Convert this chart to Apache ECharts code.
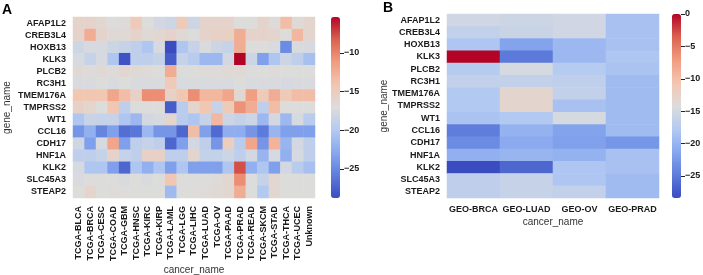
<!DOCTYPE html>
<html><head><meta charset="utf-8">
<script src="https://cdn.jsdelivr.net/npm/echarts@6/dist/echarts.min.js"></script>
<style>html,body{margin:0;padding:0;background:#fff}#c{width:703px;height:275px}</style>
</head><body><div id="c"></div>
<script>
const genes = ['AFAP1L2','CREB3L4','HOXB13','KLK3','PLCB2','RC3H1','TMEM176A','TMPRSS2','WT1','CCL16','CDH17','HNF1A','KLK2','SLC45A3','STEAP2'];
const tcgaCancers = ['TCGA-BLCA','TCGA-BRCA','TCGA-CESC','TCGA-COAD','TCGA-GBM','TCGA-HNSC','TCGA-KIRC','TCGA-KIRP','TCGA-LAML','TCGA-LGG','TCGA-LIHC','TCGA-LUAD','TCGA-OV','TCGA-PAAD','TCGA-PRAD','TCGA-READ','TCGA-SKCM','TCGA-STAD','TCGA-THCA','TCGA-UCEC','Unknown'];
const geoCancers = ['GEO-BRCA','GEO-LUAD','GEO-OV','GEO-PRAD'];

// Panel A values, one array per gene (columns follow tcgaCancers)
const tcgaAFAP1L2 = [-15.9,-15.9,-16.3,-17.0,-16.8,-14.7,-17.0,-17.8,-18.2,-14.7,-18.2,-15.9,-15.9,-15.9,-17.0,-17.0,-15.9,-16.8,-13.5,-16.6,-16.1];
const tcgaCREB3L4 = [-15.9,-12.4,-15.9,-16.6,-16.6,-15.9,-16.6,-16.3,-15.9,-16.6,-17.0,-15.9,-15.6,-15.4,-12.4,-15.9,-15.9,-16.1,-17.0,-13.1,-16.1];
const tcgaHOXB13  = [-18.0,-17.5,-17.5,-18.2,-18.7,-19.2,-20.3,-17.5,-28.75,-20.3,-18.7,-17.3,-18.2,-18.7,-12.4,-17.0,-17.0,-17.3,-24.8,-17.3,-17.5];
const tcgaKLK3    = [-17.5,-18.7,-17.5,-20.3,-28.3,-19.2,-19.2,-18.7,-27.8,-18.7,-19.6,-21.5,-21.5,-17.8,-5.35,-18.2,-23.4,-20.3,-18.2,-19.2,-20.8];
const tcgaPLCB2   = [-16.6,-16.8,-16.6,-16.8,-16.3,-16.6,-16.8,-17.0,-12.4,-17.0,-17.0,-16.8,-16.8,-16.6,-16.6,-17.0,-17.0,-16.8,-17.0,-17.0,-17.0];
const tcgaRC3H1   = [-17.3,-17.3,-17.0,-17.3,-17.0,-17.3,-17.3,-17.3,-14.7,-17.3,-17.3,-17.3,-17.3,-17.3,-17.0,-17.3,-17.3,-17.3,-17.5,-17.3,-17.3];
const tcgaTMEM176A= [-14.2,-14.2,-14.2,-11.9,-13.5,-15.6,-10.5,-10.5,-15.6,-14.2,-10.5,-13.1,-13.1,-11.9,-16.3,-11.4,-14.7,-12.4,-14.7,-13.5,-13.5];
const tcgaTMPRSS2 = [-15.6,-16.1,-17.0,-14.2,-19.2,-17.0,-17.0,-17.0,-27.8,-19.6,-16.1,-14.2,-18.7,-14.7,-10.7,-12.4,-19.2,-13.5,-17.0,-17.0,-17.0];
const tcgaWT1     = [-20.3,-18.5,-18.7,-18.7,-20.3,-21.5,-17.8,-17.5,-16.1,-19.6,-20.3,-18.7,-13.1,-18.2,-18.9,-18.2,-21.5,-17.8,-21.5,-17.5,-19.6];
const tcgaCCL16   = [-24.1,-22.2,-25.2,-23.4,-26.6,-26.2,-21.5,-24.1,-24.1,-27.1,-13.5,-23.4,-26.9,-22.4,-22.4,-24.1,-25.9,-21.7,-23.4,-23.4,-23.4];
const tcgaCDH17   = [-18.0,-23.4,-17.5,-11.9,-23.4,-19.2,-18.7,-19.2,-27.1,-23.4,-17.8,-19.2,-24.1,-15.2,-19.6,-11.9,-24.1,-12.8,-21.7,-17.8,-19.2];
const tcgaHNF1A   = [-19.2,-19.2,-18.7,-15.9,-18.7,-19.2,-15.6,-15.6,-19.2,-19.2,-16.1,-18.9,-18.9,-18.2,-19.2,-17.8,-21.7,-17.5,-22.2,-17.5,-19.2];
const tcgaKLK2    = [-17.5,-20.3,-20.3,-23.4,-27.1,-20.3,-22.2,-20.3,-23.4,-20.3,-23.4,-23.4,-23.4,-20.3,-7.7,-22.2,-20.3,-23.4,-17.8,-19.6,-20.8];
const tcgaSLC45A3 = [-17.3,-17.0,-17.0,-17.0,-17.3,-17.0,-17.3,-17.0,-14.2,-17.0,-17.0,-17.0,-16.8,-16.3,-10.5,-17.0,-18.7,-16.3,-17.0,-17.0,-17.0];
const tcgaSTEAP2  = [-17.0,-16.1,-17.0,-16.8,-17.0,-17.0,-17.0,-17.0,-21.3,-17.0,-17.0,-16.8,-16.6,-16.3,-12.4,-17.0,-20.1,-16.3,-17.0,-17.0,-17.0];

// Panel B values, one array per GEO dataset (rows follow genes)
const geoBRCA = [-15.3,-16.5,-18.2,0,-17.6,-16.5,-17.9,-17.9,-18.5,-24.7,-23.6,-20.4,-28.4,-16.8,-16.8];
const geoLUAD = [-15.6,-15.9,-21.6,-25.0,-14.8,-16.5,-13.1,-13.1,-17.9,-20.2,-21.0,-19.9,-26.4,-16.2,-16.2];
const geoOV   = [-15.3,-15.3,-19.6,-19.6,-17.6,-16.8,-16.5,-18.7,-14.8,-21.6,-21.9,-20.2,-18.2,-18.2,-16.5];
const geoPRAD = [-18.7,-18.7,-18.7,-18.2,-18.5,-19.3,-19.3,-19.3,-19.3,-19.3,-22.7,-18.7,-18.7,-19.3,-19.3];

// colour-bar ranges and tick labels
const rangeA = [-28.75, -5.35];
const rangeB = [-28.4, 0];
const ticksA = [-25, -20, -15, -10];
const ticksB = [-25, -20, -15, -10, -5, 0];

const coolwarm = ['#3b4cc0','#5d7cdb','#87a7ef','#b4caf1','#dcdcdc','#f2c6b0','#f19c80','#da634f','#b40426'];

const tcgaRows = [tcgaAFAP1L2,tcgaCREB3L4,tcgaHOXB13,tcgaKLK3,tcgaPLCB2,tcgaRC3H1,tcgaTMEM176A,tcgaTMPRSS2,tcgaWT1,tcgaCCL16,tcgaCDH17,tcgaHNF1A,tcgaKLK2,tcgaSLC45A3,tcgaSTEAP2];
const geoCols = [geoBRCA, geoLUAD, geoOV, geoPRAD];
const dataA = [];
tcgaRows.forEach((row, gi) => row.forEach((v, ci) => dataA.push([ci, gi, v])));
const dataB = [];
geoCols.forEach((col, ci) => col.forEach((v, gi) => dataB.push([ci, gi, v])));

const FONT = '"Liberation Sans", Arial, sans-serif';
const TXT = '#1a1a1a';
const minus = v => String(v).replace('-', '\u2212');

const catLabel = {fontFamily: FONT, fontWeight: 'bold', fontSize: 9, color: TXT};
const nameStyle = {fontFamily: FONT, fontSize: 10, color: '#333'};

function cbAxis(gridIndex, range, ticks) {
  return {
    gridIndex, type: 'value', position: 'right', min: range[0], max: range[1],
    axisLine: {show: false}, splitLine: {show: false},
    axisTick: {show: true, length: 4, lineStyle: {color: '#222', width: 1}, customValues: ticks},
    axisLabel: {customValues: ticks, formatter: minus, margin: 4, fontFamily: FONT, fontWeight: 'bold', fontSize: 9, color: TXT}
  };
}

const chart = echarts.init(document.getElementById('c'), null, {renderer: 'canvas'});
chart.setOption({
  backgroundColor: '#fff',
  animation: false,
  title: [
    {text: 'A', left: 2, top: 3, padding: 0, textStyle: {fontFamily: FONT, fontWeight: 'bold', fontSize: 14, color: '#000'}},
    {text: 'B', left: 383, top: 1, padding: 0, textStyle: {fontFamily: FONT, fontWeight: 'bold', fontSize: 14, color: '#000'}}
  ],
  grid: [
    {left: 73, top: 17, width: 242, height: 181, containLabel: false, outerBoundsMode: 'none'},
    {left: 447, top: 14, width: 212, height: 184, containLabel: false, outerBoundsMode: 'none'},
    {left: 331, top: 17, width: 9, height: 181, containLabel: false, outerBoundsMode: 'none'},
    {left: 672, top: 14, width: 9, height: 184, containLabel: false, outerBoundsMode: 'none'}
  ],
  xAxis: [
    {gridIndex: 0, type: 'category', data: tcgaCancers, axisLine: {show: false}, axisTick: {show: false},
     axisLabel: Object.assign({rotate: 90, margin: 8, interval: 0}, catLabel),
     name: 'cancer_name', nameLocation: 'middle', nameGap: 67, nameMoveOverlap: false, nameTextStyle: nameStyle},
    {gridIndex: 1, type: 'category', data: geoCancers, axisLine: {show: false}, axisTick: {show: false},
     axisLabel: Object.assign({margin: 7, interval: 0}, catLabel),
     name: 'cancer_name', nameLocation: 'middle', nameGap: 19, nameMoveOverlap: false, nameTextStyle: nameStyle},
    {gridIndex: 2, type: 'category', data: [''], show: false},
    {gridIndex: 3, type: 'category', data: [''], show: false}
  ],
  yAxis: [
    {gridIndex: 0, type: 'category', data: genes, inverse: true, axisLine: {show: false}, axisTick: {show: false},
     axisLabel: Object.assign({margin: 7, interval: 0}, catLabel),
     name: 'gene_name', nameLocation: 'middle', nameGap: 61, nameMoveOverlap: false, nameRotate: 90, nameTextStyle: nameStyle},
    {gridIndex: 1, type: 'category', data: genes, inverse: true, axisLine: {show: false}, axisTick: {show: false},
     axisLabel: Object.assign({margin: 7, interval: 0}, catLabel),
     name: 'gene_name', nameLocation: 'middle', nameGap: 58, nameMoveOverlap: false, nameRotate: 90, nameTextStyle: nameStyle},
    cbAxis(2, rangeA, ticksA),
    cbAxis(3, rangeB, ticksB)
  ],
  visualMap: [
    {type: 'continuous', seriesIndex: 0, min: rangeA[0], max: rangeA[1], inRange: {color: coolwarm},
     left: 331, top: 17, itemWidth: 9, itemHeight: 181, padding: 0, calculable: false, text: null, hoverLink: false},
    {type: 'continuous', seriesIndex: 1, min: rangeB[0], max: rangeB[1], inRange: {color: coolwarm},
     left: 672, top: 14, itemWidth: 9, itemHeight: 184, padding: 0, calculable: false, text: null, hoverLink: false}
  ],
  series: [
    {type: 'heatmap', xAxisIndex: 0, yAxisIndex: 0, data: dataA, itemStyle: {borderWidth: 0}, emphasis: {disabled: true}},
    {type: 'heatmap', xAxisIndex: 1, yAxisIndex: 1, data: dataB, itemStyle: {borderWidth: 0}, emphasis: {disabled: true}}
  ]
});
</script></body></html>
